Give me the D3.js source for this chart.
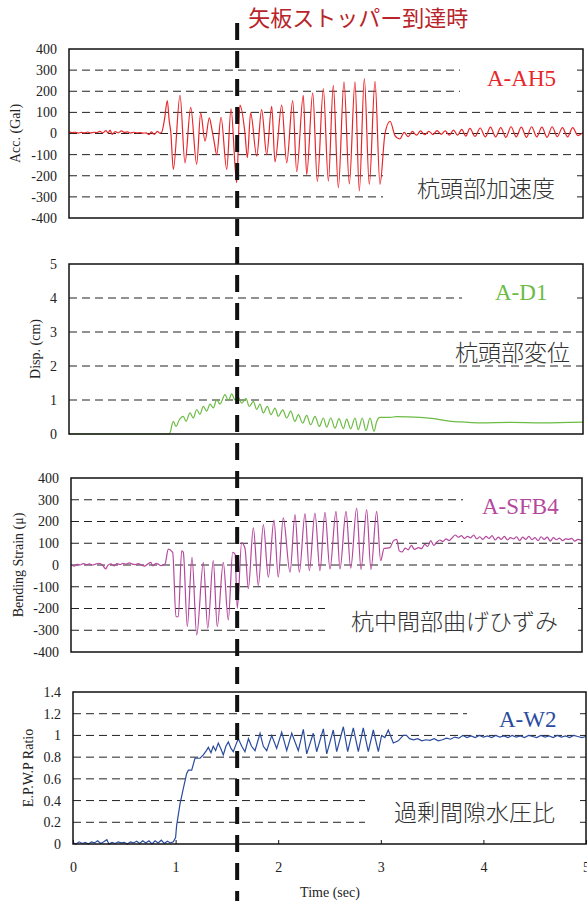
<!DOCTYPE html>
<html>
<head>
<meta charset="utf-8">
<script src="https://cdn.jsdelivr.net/npm/d3@7"></script>
<style>
  body { margin: 0; background: #fff; }
  svg { display: block; }
  .tick text { font-family: "Liberation Serif", "Times New Roman", serif; font-size: 14px; fill: #222; }
</style>
</head>
<body>
<svg id="chart" width="587" height="901"></svg>
<script>
// ---- data: [time (sec), value] ----
var accData = [
  [0,8],[0.03,4],[0.06,6],[0.09,2],[0.12,5],[0.15,3],[0.18,7],[0.21,2],[0.24,6],[0.27,4],[0.30,10],[0.33,3],
  [0.36,14],[0.38,2],[0.40,16],[0.42,-4],[0.45,9],[0.48,3],[0.51,12],[0.54,5],[0.57,8],[0.60,2],[0.63,6],
  [0.66,3],[0.69,4],[0.72,2],[0.75,3],[0.78,-6],[0.80,8],[0.83,-4],[0.86,10],[0.88,2],[0.90,5],
  [0.93,70],[0.956,156],[0.975,60],[0.99,8],[1.015,-170],[1.080,181],[1.128,-139],[1.184,124],[1.242,-146],
  [1.281,98],[1.323,-36],[1.365,74],[1.39,20],[1.411,-36],[1.437,-100],[1.479,77],[1.534,-170],[1.576,117],
  [1.631,-233],[1.663,134],[1.712,0],[1.735,-115],[1.767,98],[1.826,-107],[1.874,113],[1.923,-100],[1.972,129],
  [2.004,-134],[2.069,134],[2.118,-139],[2.176,156],[2.215,-181],[2.279,181],[2.312,-194],[2.371,192],[2.416,-228],
  [2.474,213],[2.523,-225],[2.571,228],[2.620,-257],[2.675,244],[2.727,-238],[2.782,244],[2.824,-272],[2.873,260],
  [2.921,-241],[2.977,247],[3.025,-241],[3.074,0],[3.123,58],[3.171,-10],[3.19,-20],[3.22,-25],[3.26,5],
  [3.30,-15],[3.34,10],[3.38,-8],[3.42,12],[3.46,-6],[3.50,10],[3.54,-5],[3.58,14],[3.62,-4],[3.66,12],
  [3.70,-8],[3.74,16],[3.78,-8],[3.82,20],[3.86,-12],[3.90,24],[3.95,-14],[4.00,26],[4.05,-16],[4.10,30],
  [4.15,-16],[4.20,28],[4.25,-18],[4.30,32],[4.35,-16],[4.40,30],[4.45,-18],[4.50,32],[4.55,-16],[4.60,30],
  [4.65,-18],[4.70,32],[4.75,-15],[4.80,28],[4.85,-16],[4.90,28],[4.95,-10],[5.00,4]
];

var dispData = [
  [0,0],[0.976,0],[1.015,0.37],[1.041,0.22],[1.073,0.42],[1.112,0.52],[1.138,0.37],[1.177,0.62],[1.209,0.47],
  [1.242,0.72],[1.274,0.58],[1.307,0.81],[1.339,0.67],[1.372,0.88],[1.404,0.77],[1.437,1.01],[1.469,0.88],
  [1.518,1.16],[1.550,0.98],[1.583,1.18],[1.615,1.00],[1.647,1.08],[1.680,0.91],[1.722,1.04],[1.754,0.81],
  [1.793,0.96],[1.826,0.72],[1.858,0.88],[1.890,0.62],[1.929,0.81],[1.965,0.57],[2.004,0.76],[2.036,0.52],
  [2.079,0.71],[2.118,0.47],[2.157,0.67],[2.198,0.37],[2.231,0.57],[2.273,0.32],[2.312,0.55],[2.351,0.27],
  [2.393,0.52],[2.435,0.22],[2.474,0.47],[2.507,0.20],[2.546,0.47],[2.588,0.17],[2.626,0.45],[2.669,0.16],
  [2.701,0.44],[2.740,0.15],[2.782,0.47],[2.814,0.13],[2.853,0.47],[2.889,0.10],[2.928,0.47],[2.967,0.08],
  [2.993,0.37],[3.025,0.49],[3.123,0.49],[3.188,0.51],[3.414,0.49],[3.55,0.45],[3.70,0.38],[3.85,0.35],
  [4.0,0.33],[4.3,0.34],[4.6,0.33],[5.0,0.35]
];

var strainData = [
  [0,0],[0.03,-5],[0.06,3],[0.09,0],[0.12,6],[0.15,2],[0.18,5],[0.21,0],[0.24,4],[0.27,8],[0.30,2],[0.32,-8],
  [0.34,-18],[0.36,-2],[0.39,5],[0.42,-4],[0.45,6],[0.48,2],[0.51,8],[0.54,4],[0.57,10],[0.60,4],[0.63,2],
  [0.66,6],[0.69,0],[0.72,-5],[0.75,4],[0.78,12],[0.80,-4],[0.83,8],[0.86,2],[0.88,-3],[0.92,5],
  [0.952,73],[0.995,58],[1.027,-238],[1.05,-238],[1.083,65],[1.099,58],[1.138,-283],[1.184,35],[1.230,-321],
  [1.295,12],[1.338,-291],[1.392,20],[1.431,-283],[1.490,12],[1.539,-253],[1.582,58],[1.605,50],[1.627,-200],
  [1.670,103],[1.703,75],[1.735,-109],[1.784,171],[1.833,-94],[1.882,186],[1.931,-56],[1.986,206],[2.028,-56],
  [2.077,217],[2.143,-33],[2.192,232],[2.234,-33],[2.290,236],[2.332,-26],[2.387,239],[2.436,-26],[2.485,242],
  [2.534,-18],[2.593,247],[2.632,-18],[2.691,247],[2.737,-15],[2.795,262],[2.838,-21],[2.893,255],[2.935,-21],
  [2.991,247],[3.030,20],[3.063,76],[3.121,80],[3.154,111],[3.187,118],[3.212,65],[3.24,60],[3.27,78],
  [3.30,70],[3.33,90],[3.36,72],[3.40,80],[3.43,75],[3.46,95],[3.49,85],[3.52,112],[3.55,90],[3.58,105],
  [3.61,115],[3.64,108],[3.67,120],[3.70,112],[3.73,125],[3.76,138],[3.79,128],[3.82,135],[3.85,122],
  [3.88,132],[3.91,125],[3.94,138],[3.97,120],[4.00,130],[4.03,118],[4.06,132],[4.09,122],[4.12,135],
  [4.15,115],[4.18,128],[4.21,118],[4.24,132],[4.27,115],[4.30,126],[4.33,120],[4.36,130],[4.39,112],
  [4.42,128],[4.45,118],[4.48,132],[4.51,116],[4.54,126],[4.57,112],[4.60,130],[4.63,118],[4.66,128],
  [4.69,110],[4.72,126],[4.75,116],[4.78,124],[4.81,112],[4.84,120],[4.87,118],[4.90,122],[4.93,110],
  [4.96,118],[5.00,112]
];

var epwpData = [
  [0,0.01],[0.03,0.0],[0.06,0.02],[0.09,0.005],[0.12,0.015],[0.15,0.0],[0.18,0.02],[0.21,0.01],[0.24,0.03],
  [0.27,0.005],[0.30,0.02],[0.33,0.04],[0.35,0.0],[0.38,0.015],[0.41,0.005],[0.44,0.02],[0.47,0.01],
  [0.50,0.015],[0.53,0.0],[0.56,0.02],[0.59,0.01],[0.62,0.025],[0.65,0.005],[0.68,0.03],[0.71,0.01],
  [0.74,0.03],[0.77,0.0],[0.80,0.03],[0.83,0.01],[0.86,0.035],[0.89,0.005],[0.92,0.025],[0.95,0.01],
  [0.978,0.02],[1.0,0.06],[1.01,0.17],[1.043,0.37],[1.075,0.51],[1.108,0.65],[1.125,0.68],[1.157,0.68],
  [1.189,0.79],[1.238,0.79],[1.27,0.82],[1.30,0.86],[1.319,0.89],[1.345,0.84],[1.367,0.90],[1.39,0.86],
  [1.416,0.93],[1.44,0.88],[1.465,0.82],[1.49,0.90],[1.514,0.94],[1.54,0.88],[1.562,0.85],[1.59,0.92],
  [1.611,0.97],[1.645,0.90],[1.676,0.85],[1.71,0.97],[1.74,0.90],[1.774,0.86],[1.823,1.02],[1.855,0.90],
  [1.888,0.86],[1.937,1.0],[1.985,0.88],[2.034,1.03],[2.083,0.86],[2.132,1.02],[2.196,0.86],[2.245,1.056],
  [2.278,0.83],[2.342,1.02],[2.375,0.85],[2.44,1.06],[2.473,0.83],[2.537,1.05],[2.57,0.85],[2.635,1.08],
  [2.677,0.85],[2.732,1.07],[2.781,0.85],[2.829,1.07],[2.878,0.85],[2.927,1.05],[2.976,0.85],[3.008,1.0],
  [3.04,0.98],[3.073,1.05],[3.122,0.93],[3.17,0.95],[3.22,1.0],[3.25,1.0],[3.28,0.97],[3.32,0.96],
  [3.36,0.97],[3.40,0.95],[3.44,0.96],[3.48,0.955],[3.52,0.97],[3.56,0.95],[3.60,0.96],[3.64,0.975],
  [3.68,0.965],[3.72,0.985],[3.76,0.975],[3.80,1.0],[3.84,0.98],[3.88,0.995],[3.92,0.98],[3.96,1.0],
  [4.00,0.985],[4.04,0.995],[4.08,0.98],[4.12,1.0],[4.16,0.985],[4.20,0.995],[4.24,0.98],[4.28,1.0],
  [4.32,0.985],[4.36,0.995],[4.40,0.98],[4.44,1.0],[4.48,0.99],[4.52,0.98],[4.56,1.0],[4.60,0.985],
  [4.64,0.995],[4.68,0.98],[4.72,1.0],[4.76,0.985],[4.80,0.995],[4.84,0.98],[4.88,1.0],[4.92,0.99],
  [4.96,0.98],[5.00,0.99]
];

var accTicks = [-400, -300, -200, -100, 0, 100, 200, 300, 400];
var dispTicks = [0, 1, 2, 3, 4, 5];
var strainTicks = [-400, -300, -200, -100, 0, 100, 200, 300, 400];
var epwpTicks = [0, 0.2, 0.4, 0.6, 0.8, 1, 1.2, 1.4];
var timeTicks = [0, 1, 2, 3, 4, 5];
var stopperTime = 1.6;

var svg = d3.select("#chart");
var serif = '"Liberation Serif", "Times New Roman", serif';
var jp = '"Noto Sans CJK JP", sans-serif';

var panels = [
  { data: accData, domain: [-400, 400], ticks: accTicks, left: 69, right: 583, top: 49, bottom: 218,
    color: "#e8262a", yTitle: "Acc. (Gal)", titleX: 15,
    tag: "A-AH5", tagX: 487, tagY: 86,
    note: "杭頭部加速度", noteX: 555, noteY: 197,
    boxes: [[460, 60, 102], [383, 165, 208]] },
  { data: dispData, domain: [0, 5], ticks: dispTicks, left: 69, right: 583, top: 264, bottom: 434,
    color: "#6cbb45", yTitle: "Disp. (cm)", titleX: 35,
    tag: "A-D1", tagX: 495, tagY: 300,
    note: "杭頭部変位", noteX: 570, noteY: 361,
    boxes: [[462, 284, 310]] },
  { data: strainData, domain: [-400, 400], ticks: strainTicks, left: 71, right: 582, top: 478, bottom: 652,
    color: "#b5489d", yTitle: "Bending Strain (μ)", titleX: 18,
    tag: "A-SFB4", tagX: 482, tagY: 514,
    note: "杭中間部曲げひずみ", noteX: 558, noteY: 630,
    boxes: [[463, 490, 533], [325, 598, 642]] },
  { data: epwpData, domain: [0, 1.4], ticks: epwpTicks, left: 73, right: 586, top: 692, bottom: 844,
    color: "#2a4b9e", yTitle: "E.P.W.P Ratio", titleX: 28,
    tag: "A-W2", tagX: 499, tagY: 727,
    note: "過剰間隙水圧比", noteX: 555, noteY: 821,
    boxes: [[467, 704, 724], [365, 790, 833]] }
];

panels.forEach(function (p, i) {
  var x = d3.scaleLinear().domain([0, 5]).range([p.left, p.right]);
  var y = d3.scaleLinear().domain(p.domain).range([p.bottom, p.top]);
  var g = svg.append("g");

  // dashed gridlines
  g.selectAll("line.grid")
    .data(p.ticks.slice(1, -1))
    .join("line")
    .attr("class", "grid")
    .attr("x1", p.left).attr("x2", p.right)
    .attr("y1", function (d) { return y(d); })
    .attr("y2", function (d) { return y(d); })
    .attr("stroke", "#222")
    .attr("stroke-width", 1)
    .attr("stroke-dasharray", "8,5");

  // white boxes behind the labels hide parts of the gridlines
  p.boxes.forEach(function (b) {
    g.append("rect")
      .attr("x", b[0]).attr("y", b[1])
      .attr("width", p.right - 6 - b[0]).attr("height", b[2] - b[1])
      .attr("fill", "#fff");
  });

  // data line
  var line = d3.line()
    .x(function (d) { return x(d[0]); })
    .y(function (d) { return y(d[1]); })
    .curve(i === 3 ? d3.curveLinear : d3.curveMonotoneX);
  g.append("path")
    .datum(p.data)
    .attr("d", line)
    .attr("fill", "none")
    .attr("stroke", p.color)
    .attr("stroke-width", 1.2);

  // frame
  g.append("rect")
    .attr("x", p.left).attr("y", p.top)
    .attr("width", p.right - p.left).attr("height", p.bottom - p.top)
    .attr("fill", "none")
    .attr("stroke", "#111")
    .attr("stroke-width", 1.5);

  // y axis labels
  var yAxis = g.append("g")
    .attr("transform", "translate(" + p.left + ",0)")
    .call(d3.axisLeft(y).tickValues(p.ticks).tickSize(0).tickPadding(12)
      .tickFormat(function (d) { return String(d); }));
  yAxis.select(".domain").remove();

  // y title
  g.append("text")
    .attr("transform", "translate(" + p.titleX + "," + ((p.top + p.bottom) / 2) + ") rotate(-90)")
    .attr("text-anchor", "middle")
    .attr("dy", "0.35em")
    .style("font-family", serif)
    .style("font-size", "14px")
    .attr("fill", "#222")
    .text(p.yTitle);

  // sensor tag
  g.append("text")
    .attr("x", p.tagX).attr("y", p.tagY)
    .style("font-family", serif)
    .style("font-size", "23px")
    .attr("fill", p.color)
    .text(p.tag);

  // japanese note
  g.append("text")
    .attr("x", p.noteX).attr("y", p.noteY)
    .attr("text-anchor", "end")
    .style("font-family", jp)
    .style("font-size", "23px")
    .style("font-weight", 300)
    .attr("fill", "#333")
    .text(p.note);

  // time axis on the last panel
  if (i === 3) {
    var xAxis = g.append("g")
      .attr("transform", "translate(0," + p.bottom + ")")
      .call(d3.axisBottom(x).tickValues(timeTicks).tickSize(-4).tickPadding(18).tickFormat(d3.format("d")));
    xAxis.select(".domain").remove();
    xAxis.selectAll(".tick line").attr("stroke", "#111");

    g.append("text")
      .attr("x", 330).attr("y", 897)
      .attr("text-anchor", "middle")
      .style("font-family", serif)
      .style("font-size", "14px")
      .attr("fill", "#222")
      .text("Time (sec)");

    // stopper arrival marker
    svg.append("line")
      .attr("x1", x(stopperTime)).attr("x2", x(stopperTime))
      .attr("y1", 23).attr("y2", 901)
      .attr("stroke", "#111")
      .attr("stroke-width", 4)
      .attr("stroke-dasharray", "17,11");

    svg.append("text")
      .attr("x", x(stopperTime) + 11).attr("y", 26)
      .style("font-family", jp)
      .style("font-size", "22px")
      .attr("fill", "#b8242a")
      .text("矢板ストッパー到達時");
  }
});
</script>
</body>
</html>
